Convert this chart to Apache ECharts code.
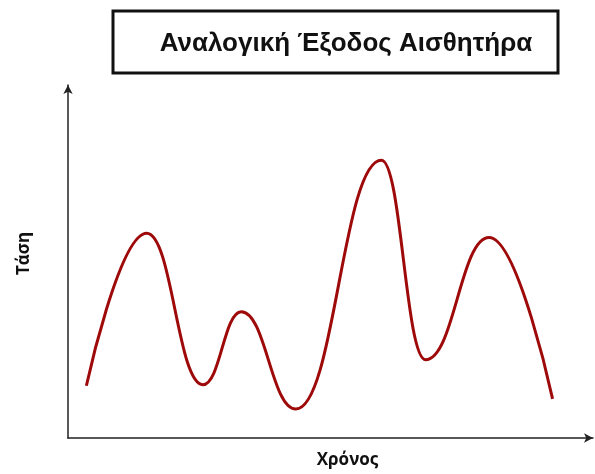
<!DOCTYPE html>
<html>
<head>
<meta charset="utf-8">
<script src="https://cdn.jsdelivr.net/npm/echarts@6/dist/echarts.min.js"></script>
<style>
  html, body { margin: 0; padding: 0; background: #fff; }
  #chart { width: 595px; height: 474px; }
</style>
</head>
<body>
<div id="chart"></div>
<script>
// turning points (time 0..100, voltage 0..100)
var timeValues = [3.5, 15.0, 25.7, 33.0, 43.4, 59.7, 68.1, 80.2, 92.3];
var voltageValues = [14.8, 58.0, 15.1, 35.8, 8.2, 78.7, 22.2, 56.8, 11.1];

var titleText = "Αναλογική Έξοδος Αισθητήρα";
var xName = "Χρόνος";
var yName = "Τάση";

var points = timeValues.map(function (t, i) { return [t, voltageValues[i]]; });

var chart = echarts.init(document.getElementById("chart"));
var font = "Arial, 'Liberation Sans', sans-serif";
var nameFont = "'Open Sans', sans-serif";

chart.setOption({
  animation: false,
  title: {
    text: titleText,
    left: 341,
    top: 26,
    textAlign: "center",
    textStyle: { fontFamily: font, fontWeight: "bold", fontSize: 26, color: "#111" }
  },
  graphic: [{
    type: "rect",
    shape: { x: 113, y: 11, width: 445, height: 62 },
    style: { fill: "none", stroke: "#111", lineWidth: 3 }
  }],
  grid: { left: 68, right: 2, top: 85, bottom: 36 },
  xAxis: {
    type: "value",
    min: 0,
    max: 100,
    name: xName,
    nameLocation: "middle",
    nameGap: 14,
    nameTextStyle: { fontFamily: nameFont, fontWeight: "bold", fontSize: 17, color: "#111", padding: [0, 0, 0, 34] },
    axisLine: { lineStyle: { color: "#222", width: 1.5 }, symbol: ["none", "arrow"], symbolSize: [7, 9] },
    axisTick: { show: false },
    axisLabel: { show: false },
    splitLine: { show: false }
  },
  yAxis: {
    type: "value",
    min: 0,
    max: 100,
    name: yName,
    nameLocation: "middle",
    nameGap: 35,
    nameRotate: 90,
    nameTextStyle: { fontFamily: nameFont, fontWeight: "bold", fontSize: 17, color: "#111", padding: [0, 0, 0, 16] },
    axisLine: { lineStyle: { color: "#222", width: 1.5 }, symbol: ["none", "arrow"], symbolSize: [7, 9] },
    axisTick: { show: false },
    axisLabel: { show: false },
    splitLine: { show: false }
  },
  series: [{
    type: "line",
    data: points,
    smooth: 0.45,
    smoothMonotone: "x",
    showSymbol: false,
    lineStyle: { color: "#9e0a0a", width: 3 }
  }]
});
</script>
</body>
</html>
